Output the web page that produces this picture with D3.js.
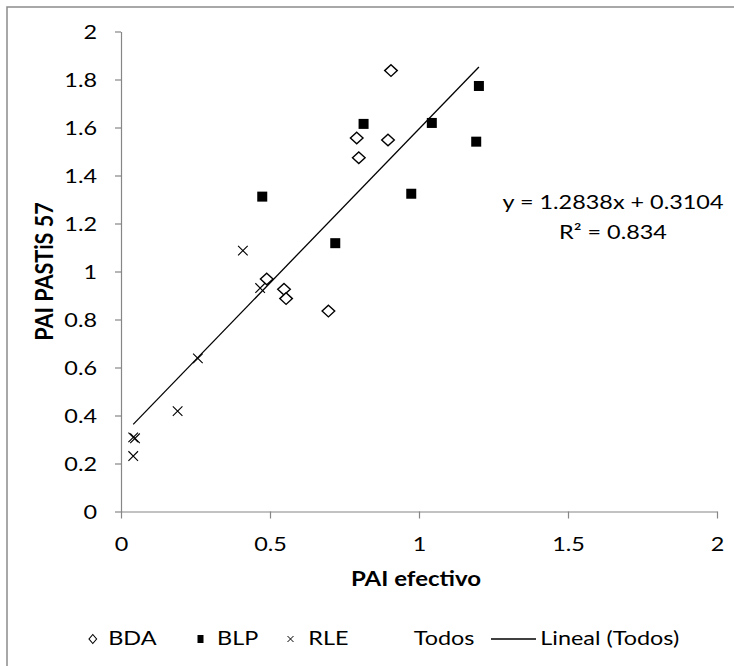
<!DOCTYPE html>
<html><head><meta charset="utf-8">
<script src="https://cdn.jsdelivr.net/npm/d3@7"></script>
<style>body{margin:0;background:#fff} text{font-family:Lato, "Open Sans", sans-serif}</style>
</head><body><svg id="c" width="734" height="666"></svg>
<script>
// ---- data ----
const bdaX = [0.906, 0.791, 0.896, 0.798, 0.489, 0.547, 0.554, 0.696];
const bdaY = [1.837, 1.556, 1.548, 1.474, 0.969, 0.926, 0.887, 0.835];
const blpX = [0.814, 0.474, 0.974, 0.719, 1.201, 1.043, 1.192];
const blpY = [1.615, 1.312, 1.324, 1.118, 1.773, 1.619, 1.541];
const rleX = [0.409, 0.467, 0.258, 0.190, 0.041, 0.047, 0.041];
const rleY = [1.087, 0.931, 0.638, 0.418, 0.309, 0.305, 0.231];
const trendSlope = 1.2838, trendIntercept = 0.3104;
const equationText = ["y = 1.2838x + 0.3104", "R² = 0.834"];
const xTicks = [0, 0.5, 1, 1.5, 2];
const xTickLabels = ["0", "0.5", "1", "1.5", "2"];
const yTicks = [0, 0.2, 0.4, 0.6, 0.8, 1, 1.2, 1.4, 1.6, 1.8, 2];
const yTickLabels = ["0", "0.2", "0.4", "0.6", "0.8", "1", "1.2", "1.4", "1.6", "1.8", "2"];
const xTitle = "PAI efectivo", yTitle = "PAI PASTiS 57";
const legendLabels = ["BDA", "BLP", "RLE", "Todos", "Lineal (Todos)"];

const STRETCH = 1.2;
const svg = d3.select("#c");
svg.append("rect").attr("width", 734).attr("height", 666).attr("fill", "#fff");
svg.append("rect").attr("x", 7).attr("y", 7).attr("width", 800).attr("height", 800)
  .attr("fill", "none").attr("stroke", "#8c8c8c").attr("stroke-width", 1.5);

const x = d3.scaleLinear().domain([0, 2]).range([121, 717]);
const y = d3.scaleLinear().domain([0, 2]).range([511.5, 31.5]);
const axisColor = "#868686";
const fs = 19.5;

const gx = svg.append("g").attr("transform", `translate(0,${y(0)})`)
  .call(d3.axisBottom(x).tickValues(xTicks).tickFormat((d, i) => xTickLabels[i])
    .tickSize(7).tickSizeOuter(0).tickPadding(18));
const gy = svg.append("g").attr("transform", `translate(${x(0)},0)`)
  .call(d3.axisLeft(y).tickValues(yTicks).tickFormat((d, i) => yTickLabels[i])
    .tickSize(6).tickSizeOuter(0).tickPadding(18));
[gx, gy].forEach(g => {
  g.selectAll("path,line").attr("stroke", axisColor).attr("stroke-width", 1.2);
  g.selectAll("text").attr("fill", "#000").style("font-size", fs + "px").attr("font-family", null);
});
gx.selectAll(".tick text").attr("dy", "0.72em");
gy.selectAll(".tick text").attr("dy", "0.36em");

// trendline
const allX = bdaX.concat(blpX, rleX);
const x0 = d3.min(allX), x1 = d3.max(allX);
svg.append("line")
  .attr("x1", x(x0)).attr("y1", y(trendSlope * x0 + trendIntercept))
  .attr("x2", x(x1)).attr("y2", y(trendSlope * x1 + trendIntercept))
  .attr("stroke", "#000").attr("stroke-width", 1.3);

// markers
const diamond = (w, h) => `M0,${-h} L${w},0 L0,${h} L${-w},0Z`;
svg.append("g").selectAll("path").data(d3.zip(bdaX, bdaY)).join("path")
  .attr("transform", d => `translate(${x(d[0])},${y(d[1])})`)
  .attr("d", diamond(6.3, 5.8)).attr("fill", "#fff").attr("stroke", "#000").attr("stroke-width", 1.4);
svg.append("g").selectAll("rect").data(d3.zip(blpX, blpY)).join("rect")
  .attr("x", d => x(d[0]) - 5).attr("y", d => y(d[1]) - 5).attr("width", 10).attr("height", 10)
  .attr("fill", "#000");
const cross = s => `M${-s},${-s} L${s},${s} M${-s},${s} L${s},${-s}`;
svg.append("g").selectAll("path").data(d3.zip(rleX, rleY)).join("path")
  .attr("transform", d => `translate(${x(d[0])},${y(d[1])})`)
  .attr("d", cross(4.8)).attr("fill", "none").attr("stroke", "#000").attr("stroke-width", 1.1);

// equation
svg.append("g").selectAll("text").data(equationText).join("text")
  .attr("x", 613).attr("y", (d, i) => 209 + i * 30).attr("text-anchor", "middle")
  .style("font-size", fs + "px").text(d => d);

// titles
svg.append("text").attr("x", 416).attr("y", 586).attr("text-anchor", "middle")
  .style("font-size", "20px").attr("font-weight", "bold").text(xTitle);
svg.append("text").attr("class", "nostretch")
  .attr("transform", `translate(53,${(y(0) + y(2)) / 2}) rotate(-90) scale(1.08,1.2)`).attr("text-anchor", "middle")
  .style("font-size", "20px").attr("font-weight", "bold").text(yTitle);

// legend
const ly = 645, lm = 639;
const lg = svg.append("g");
lg.append("path").attr("transform", `translate(92.8,${lm})`).attr("d", diamond(3.8, 4.5))
  .attr("fill", "#fff").attr("stroke", "#000").attr("stroke-width", 1.1);
lg.append("rect").attr("x", 197.5).attr("y", lm - 4).attr("width", 6).attr("height", 8).attr("fill", "#000");
lg.append("path").attr("transform", `translate(290.5,${lm})`).attr("d", cross(3))
  .attr("stroke", "#000").attr("stroke-width", 1).attr("fill", "none");
lg.append("line").attr("x1", 491).attr("x2", 536).attr("y1", lm).attr("y2", lm)
  .attr("stroke", "#000").attr("stroke-width", 1.3);
const lx = [108.2, 217, 308.3, 413.7, 540.3];
lg.selectAll("text").data(legendLabels).join("text")
  .attr("x", (d, i) => lx[i]).attr("y", ly).style("font-size", fs + "px").text(d => d);

// horizontal stretch of text (original chart is stretched horizontally)
svg.selectAll("text").filter(function () { return !this.classList.contains("nostretch"); })
  .each(function () {
    const w = this.getComputedTextLength();
    this.setAttribute("textLength", w * STRETCH);
    this.setAttribute("lengthAdjust", "spacingAndGlyphs");
  });
</script></body></html>
